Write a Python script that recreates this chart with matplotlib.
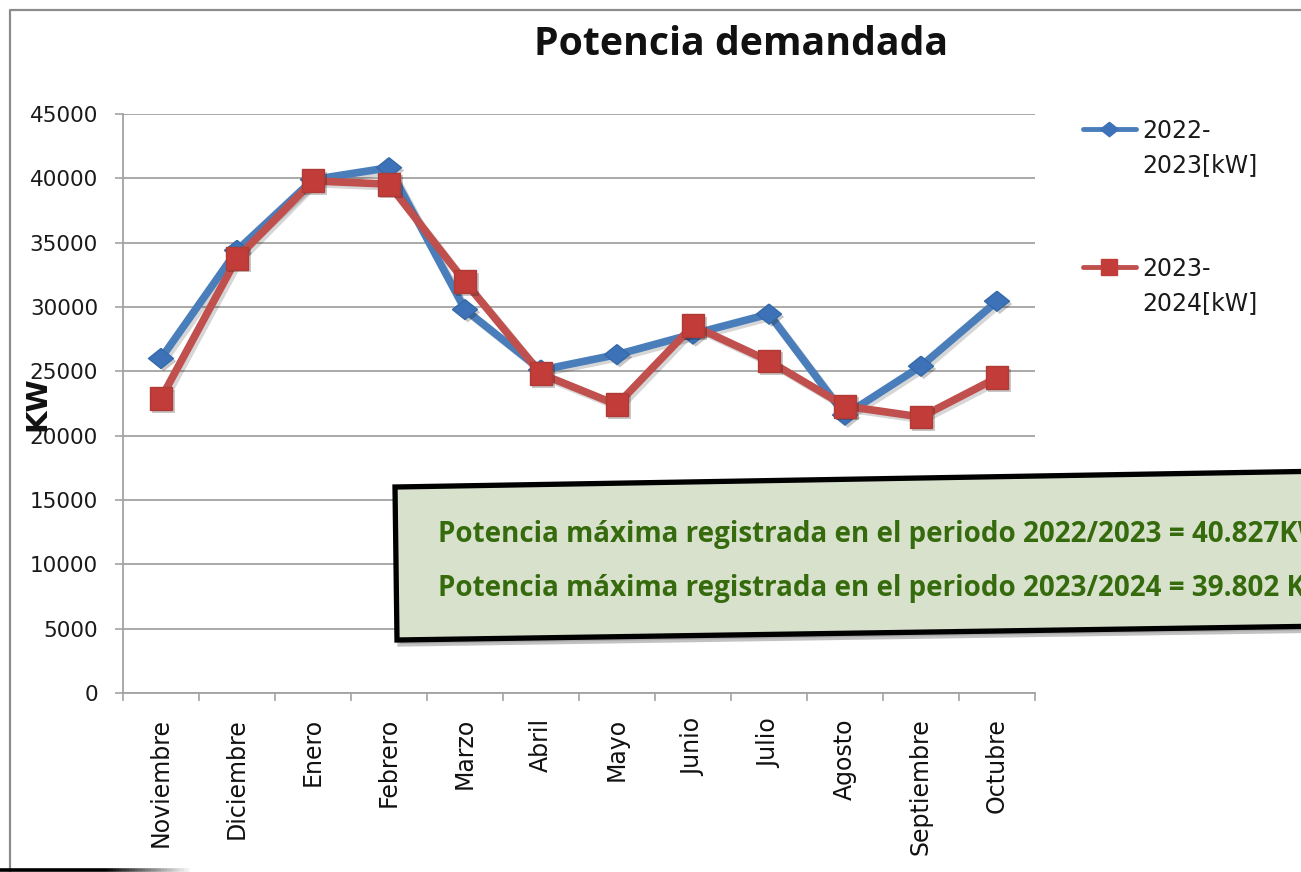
import matplotlib
matplotlib.use('Agg')
import matplotlib.pyplot as plt
import matplotlib.patheffects as pe
from matplotlib.patches import Polygon
from matplotlib.lines import Line2D
from matplotlib.collections import LineCollection
import numpy as np

# ---------------- data ----------------
months = ["Noviembre", "Diciembre", "Enero", "Febrero", "Marzo", "Abril",
          "Mayo", "Junio", "Julio", "Agosto", "Septiembre", "Octubre"]
kw_2022_2023 = [26000, 34400, 39900, 40827, 29800, 25100, 26300, 27900,
                29450, 21600, 25400, 30450]
kw_2023_2024 = [22900, 33800, 39802, 39550, 31950, 24800, 22400, 28550,
                25800, 22300, 21450, 24500]
series_labels = ["2022-\n2023[kW]", "2023-\n2024[kW]"]
yticks = list(range(0, 45001, 5000))
title = "Potencia demandada"
ylabel = "KW"
box_lines = ["Potencia máxima registrada en el periodo 2022/2023 = 40.827KW",
             "Potencia máxima registrada en el periodo 2023/2024 = 39.802 KW"]

# ---------------- style ----------------
BLUE_LINE = '#4a7ebb'
BLUE_MARK = '#3d72b8'
RED_LINE = '#c0504d'
RED_MARK = '#c23d39'
GRID = '#a3a3a3'

W, H = 1301, 872
fig = plt.figure(figsize=(W / 100, H / 100), dpi=100)


def fx(x):
    return x / W


def fy(y):
    return 1 - y / H


ax = fig.add_axes([fx(123), fy(693), fx(1035) - fx(123), fy(114) - fy(693)])
x = np.arange(len(months))

diamond = [(0, 1), (1.25, 0), (0, -1), (-1.25, 0), (0, 1)]

line_shadow = [pe.SimpleLineShadow(offset=(2, -2), shadow_color='k', alpha=0.16), pe.Normal()]
mark_shadow = [pe.SimplePatchShadow(offset=(2, -2), shadow_rgbFace='k', alpha=0.22), pe.Normal()]

ax.plot(x, kw_2022_2023, color=BLUE_LINE, lw=5.5, zorder=3,
        solid_joinstyle='round', path_effects=line_shadow)
ax.plot(x, kw_2022_2023, ls='none', marker=diamond, ms=18, mfc=BLUE_MARK,
        mec='#356aa8', mew=1, zorder=4, path_effects=mark_shadow)
ax.plot(x, kw_2023_2024, color=RED_LINE, lw=5.5, zorder=5,
        solid_joinstyle='round', path_effects=line_shadow)
ax.plot(x, kw_2023_2024, ls='none', marker='s', ms=16.5, mfc=RED_MARK,
        mec='#b03a36', mew=1, zorder=6, path_effects=mark_shadow)

ax.set_ylim(0, 45000)
ax.set_xlim(-0.5, len(months) - 0.5)
ax.set_yticks(yticks)
ax.set_yticklabels([str(v) for v in yticks])
ax.yaxis.grid(True, color=GRID, lw=1.3)
ax.set_axisbelow(True)

ax.set_xticks(np.arange(-0.5, len(months), 1))
ax.set_xticklabels([])
ax.set_xticks(x, minor=True)
ax.set_xticklabels(months, minor=True, rotation=90, va='top', ha='center')
ax.tick_params(axis='x', which='major', length=6, width=1.2, color=GRID, direction='out')
ax.tick_params(axis='x', which='minor', length=0, pad=18, labelsize=17, labelcolor='#111111')
ax.tick_params(axis='y', length=6, width=1.2, color=GRID, pad=12, labelsize=15.5,
               labelcolor='#1a1a1a')

for s in ['top', 'right']:
    ax.spines[s].set_visible(False)
for s in ['left', 'bottom']:
    ax.spines[s].set_color(GRID)
    ax.spines[s].set_linewidth(1.3)

# title and axis label
fig.text(fx(741), fy(55), title, ha='center', va='baseline', fontsize=28.3,
         fontweight='bold', family='Open Sans', color='#111111')
fig.text(fx(37), fy(404), ylabel, ha='center', va='center', rotation=90,
         fontsize=21, fontweight='bold', family='DejaVu Sans', color='#111111')

# legend (drawn manually to match the layout)
leg_items = [(BLUE_LINE, BLUE_MARK, diamond, 13, 129), (RED_LINE, RED_MARK, 's', 12, 267)]
for (lc, mc, mk, msz, yy), lab in zip(leg_items, series_labels):
    fig.add_artist(Line2D([fx(1083), fx(1136)], [fy(yy), fy(yy)], transform=fig.transFigure,
                          color=lc, lw=3.5, solid_capstyle='round'))
    fig.add_artist(Line2D([fx(1109)], [fy(yy)], transform=fig.transFigure, ls='none',
                          marker=mk, ms=msz, mfc=mc, mec=mc))
    l1, l2 = lab.split('\n')
    fig.text(fx(1142), fy(yy + 2), l1, ha='left', va='center', fontsize=17, color='#1a1a1a')
    fig.text(fx(1142), fy(yy + 36), l2, ha='left', va='center', fontsize=17, color='#1a1a1a')

# outer frame
fig.add_artist(Line2D([fx(10), fx(10), fx(1320)], [fy(880), fy(10), fy(10)],
                      transform=fig.transFigure, color='#8c8c8c', lw=1.6))
xs = np.linspace(0, 190, 60)
segs = [[(fx(xs[i]), fy(869.5)), (fx(xs[i + 1]), fy(869.5))] for i in range(len(xs) - 1)]
cols = []
for i in range(len(xs) - 1):
    t = xs[i] / 190
    g = 0.0 if t < 0.55 else min(1.0, (t - 0.55) / 0.45)
    cols.append((g, g, g))
fig.add_artist(LineCollection(segs, colors=cols, linewidths=2.6, transform=fig.transFigure))

# annotation box
box_pts = [(395, 487), (1330, 471), (1330, 626), (397, 640)]
shadow = Polygon([(fx(px + 3), fy(py + 4)) for px, py in box_pts], closed=True,
                 transform=fig.transFigure, facecolor='#9a9a9a', edgecolor='#9a9a9a',
                 lw=3.8, alpha=0.6, zorder=9)
fig.add_artist(shadow)
box = Polygon([(fx(px), fy(py)) for px, py in box_pts], closed=True,
              transform=fig.transFigure, facecolor='#d8e1cc', edgecolor='black',
              lw=3.8, zorder=10)
fig.add_artist(box)
for yy, txt in zip([542, 596], box_lines):
    fig.text(fx(438), fy(yy), txt, ha='left', va='baseline', fontsize=20,
             fontweight='bold', family='Open Sans', color='#356b0c', zorder=11)

fig.savefig('out.png', dpi=100)
